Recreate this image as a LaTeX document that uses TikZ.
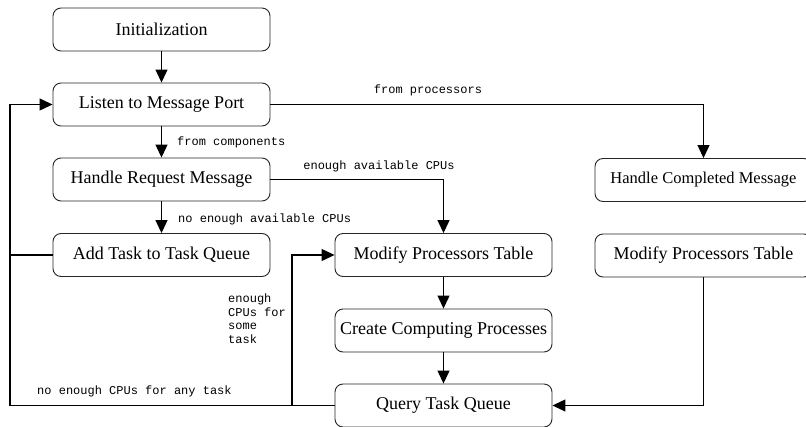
\documentclass[tikz,border=0pt]{standalone}
\usepackage{fontspec}
\setmainfont{Liberation Serif}
\setmonofont{Liberation Mono}
\usetikzlibrary{arrows.meta}
\begin{document}
\begin{tikzpicture}[x=1pt,y=-1pt,
  box/.style={draw=black!85,line width=0.9pt,rounded corners=8pt,minimum width=217pt,minimum height=43pt,inner sep=0pt,font=\fontsize{18}{20}\selectfont},
  arr/.style={line width=1.2pt,-{Triangle[length=13pt,width=12pt]}},
  ln/.style={line width=1.2pt},
  lab/.style={font=\ttfamily\fontsize{12}{13.5}\selectfont,inner sep=0pt}]
\clip (0,0) rectangle (806,426);
\fill[white] (0,0) rectangle (806,426);
\node[box] (init) at (161.5,29.5) {Initialization};
\node[box] (listen) at (161.5,104.5) {Listen to Message Port};
\node[box] (handlereq) at (161.5,179.5) {Handle Request Message};
\node[box] (addtask) at (161.5,255) {Add Task to Task Queue};
\node[box] (modify) at (443.5,255) {Modify Processors Table};
\node[box] (create) at (443.5,330.5) {Create Computing Processes};
\node[box] (query) at (443.5,405.5) {Query Task Queue};
\node[box] (handlecomp) at (703.5,180) {\fontsize{16.5}{20}\selectfont Handle Completed Message};
\node[box] (modifytwo) at (703.5,255.5) {Modify Processors Table};
\coordinate (lb) at (10,405.5);
\coordinate (br) at (292,405.5);
\draw[arr] (init) -- (listen);
\draw[arr] (listen) -- (handlereq);
\draw[arr] (listen.east) -| (handlecomp.north);
\draw[arr] (handlereq.east) -| (modify.north);
\draw[arr] (handlereq) -- (addtask);
\draw[arr] (query.west) -- (lb) |- (listen.west);
\draw[ln] (addtask.west) -- (addtask.west -| lb);
\draw[arr] (br) |- (modify.west);
\draw[arr] (modify) -- (create);
\draw[arr] (create) -- (query);
\draw[arr] (modifytwo.south) |- (query.east);
\node[lab,anchor=west] (l1) at (177,142) {from components};
\node[lab] (l2) at (428,90) {from processors};
\node[lab] (l3) at (379,166) {enough available CPUs};
\node[lab,anchor=west] (l4) at (178,219) {no enough available CPUs};
\node[lab,anchor=north west,align=left] (l5) at (228,294) {enough\\CPUs for\\some\\task};
\node[lab,anchor=west] (l6) at (37,391) {no enough CPUs for any task};
\end{tikzpicture}
\end{document}
